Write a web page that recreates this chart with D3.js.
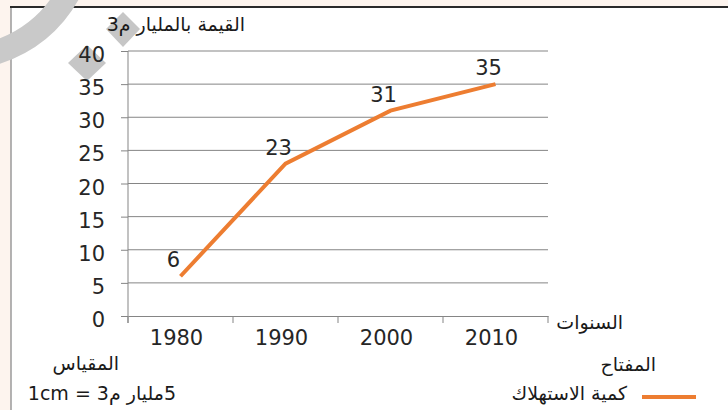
<!DOCTYPE html>
<html><head><meta charset="utf-8">
<script src="https://cdn.jsdelivr.net/npm/d3@7"></script>
<style>body{margin:0;background:#fdf4ee;overflow:hidden}svg{display:block}</style>
</head><body>
<script>
const years = ["1980","1990","2000","2010"];
const values = [6, 23, 31, 35];
const yTicks = [0,5,10,15,20,25,30,35,40];
const yTitle = "القيمة بالمليار م3";
const xTitle = "السنوات";
const scaleTitle = "المقياس";
const scaleText = "5مليار م3 = 1cm";
const legendTitle = "المفتاح";
const seriesName = "كمية الاستهلاك";

const W = 728, H = 410;
const svg = d3.select("body").append("svg").attr("width", W).attr("height", H);

// frame
svg.append("rect").attr("x", 11).attr("y", 7).attr("width", W - 11).attr("height", H - 7).attr("fill", "#ffffff");
svg.append("line").attr("x1", 11).attr("x2", 11).attr("y1", 7).attr("y2", H).attr("stroke", "#9a9a9a").attr("stroke-width", 1.5);
svg.append("line").attr("x1", 10).attr("x2", W).attr("y1", 7).attr("y2", 7).attr("stroke", "#2a2a2a").attr("stroke-width", 2);

// decorative grey marks
const deco = svg.append("g").attr("fill", "#c6c6c6");
deco.append("path").attr("d", "M-12,55 Q42,40 68,-6").attr("fill", "none").attr("stroke", "#c9c9c9").attr("stroke-width", 24);
deco.append("path").attr("d", "M87,45 L106,63 L87,81 L68,63 Z");
deco.append("path").attr("d", "M123,12 L140,29 L123,47 L106,29 Z");

const x = d3.scaleBand().domain(years).range([128, 548]);
const y = d3.scaleLinear().domain([0, 40]).range([316, 51]);

const font = "'DejaVu Sans', Verdana, sans-serif";

// gridlines
svg.append("g").selectAll("line").data(yTicks.filter(d => d > 0)).join("line")
  .attr("x1", 128).attr("x2", 548).attr("y1", d => y(d)).attr("y2", d => y(d))
  .attr("stroke", "#858585").attr("stroke-width", 1);

// y axis
const yAxis = svg.append("g").attr("transform", "translate(128,0)")
  .call(d3.axisLeft(y).tickValues(yTicks).tickSize(7).tickPadding(16).tickSizeOuter(0));
yAxis.select(".domain").remove();
yAxis.selectAll(".tick line").attr("stroke", "#858585");
yAxis.selectAll(".tick text").attr("font-family", font).attr("font-size", 21).attr("fill", "#262626").attr("dy", "0.5em");
svg.append("line").attr("x1", 128).attr("x2", 128).attr("y1", 51).attr("y2", 323).attr("stroke", "#858585");

// x axis
const xAxis = svg.append("g").attr("transform", "translate(0,316)")
  .call(d3.axisBottom(x).tickSize(0).tickPadding(13));
xAxis.select(".domain").attr("stroke", "#858585");
xAxis.selectAll(".tick text").attr("font-family", font).attr("font-size", 21).attr("fill", "#262626").attr("dx", -4).attr("dy", "0.75em");
const bounds = years.map(d => x(d)).concat([x(years[years.length - 1]) + x.bandwidth()]);
svg.append("g").selectAll("line").data(bounds).join("line")
  .attr("x1", d => d).attr("x2", d => d).attr("y1", 316).attr("y2", 323).attr("stroke", "#858585");

// series line
const cx = d => x(d) + x.bandwidth() / 2;
svg.append("path").datum(values)
  .attr("d", d3.line().x((d, i) => cx(years[i])).y(d => y(d)))
  .attr("fill", "none").attr("stroke", "#ED7D31").attr("stroke-width", 4);

// data labels
svg.append("g").selectAll("text").data(values).join("text")
  .attr("x", (d, i) => cx(years[i]) - 7).attr("y", d => y(d) - 9)
  .attr("text-anchor", "middle").attr("font-family", font).attr("font-size", 21).attr("fill", "#262626")
  .text(d => d);

// Arabic texts
const ar = (t, xx, yy, size) => svg.append("text").attr("x", xx).attr("y", yy)
  .attr("direction", "rtl").attr("text-anchor", "start")
  .attr("font-family", font).attr("font-size", size).attr("fill", "#1a1a1a").text(t);

ar(yTitle, 245, 31, 19);
ar(xTitle, 623, 329, 19);
ar(scaleTitle, 119, 370, 19);
ar(scaleText, 176, 400, 19);
ar(legendTitle, 656, 371, 19);
ar(seriesName, 627, 400, 19);

svg.append("line").attr("x1", 642).attr("x2", 696).attr("y1", 397).attr("y2", 397)
  .attr("stroke", "#ED7D31").attr("stroke-width", 4);
</script>
</body></html>
